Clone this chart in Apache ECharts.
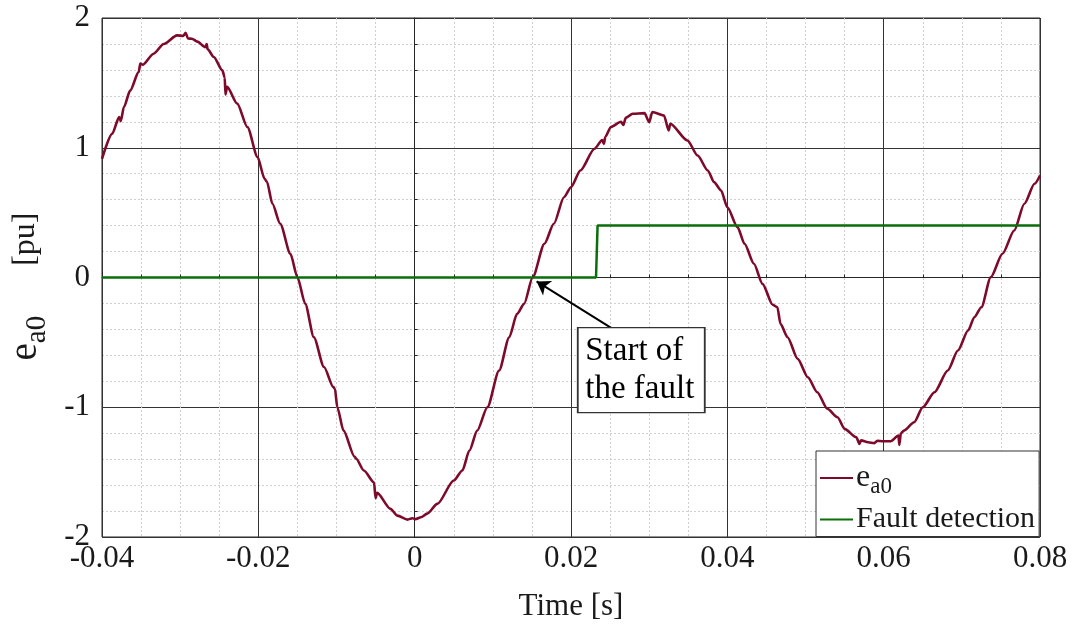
<!DOCTYPE html>
<html>
<head>
<meta charset="utf-8">
<script src="https://cdn.jsdelivr.net/npm/echarts@6/dist/echarts.min.js"></script>
<style>
  html, body { margin: 0; padding: 0; background: #fff; }
  #chart { width: 1074px; height: 630px; }
</style>
</head>
<body>
<div id="chart"></div>
<script>
// Sampled zero-sequence voltage e_a0 [pu] against time [s]
const timeE = [
  -0.0400, -0.0387, -0.0378, -0.0376, -0.0372, -0.0364, -0.0353, -0.0351, -0.0348, -0.0334,
  -0.0321, -0.0304, -0.0296, -0.0293, -0.0290, -0.0285, -0.0278, -0.0268, -0.0266, -0.0265,
  -0.0257, -0.0246, -0.0243, -0.0242, -0.0240, -0.0227, -0.0214, -0.0201, -0.0192, -0.0189,
  -0.0182, -0.0172, -0.0159, -0.0150, -0.0140, -0.0129, -0.0116, -0.0104, -0.0102, -0.0099,
  -0.0091, -0.0077, -0.0075, -0.0065, -0.0052, -0.0050, -0.0048, -0.0031, -0.0022, -0.0009,
  -0.0003, 0.0001, 0.0008, 0.0016, 0.0029, 0.0050, 0.0061, 0.0070, 0.0080, 0.0093,
  0.0108, 0.0121, 0.0131, 0.0140, 0.0151, 0.0166, 0.0178, 0.0191, 0.0200, 0.0212,
  0.0230, 0.0240, 0.0242, 0.0244, 0.0251, 0.0264, 0.0267, 0.0270, 0.0279, 0.0294,
  0.0300, 0.0304, 0.0319, 0.0325, 0.0327, 0.0349, 0.0362, 0.0375, 0.0383, 0.0392,
  0.0400, 0.0413, 0.0422, 0.0434, 0.0445, 0.0458, 0.0464, 0.0468, 0.0477, 0.0490,
  0.0503, 0.0515, 0.0528, 0.0541, 0.0550, 0.0565, 0.0569, 0.0571, 0.0580, 0.0588,
  0.0592, 0.0599, 0.0609, 0.0619, 0.0620, 0.0622, 0.0626, 0.0639, 0.0650, 0.0665,
  0.0682, 0.0695, 0.0708, 0.0716, 0.0725, 0.0737, 0.0752, 0.0767, 0.0780, 0.0793,
  0.0800
];
const valuesE = [
  0.915, 1.108, 1.236, 1.205, 1.313, 1.440, 1.585, 1.648, 1.640, 1.725,
  1.800, 1.866, 1.862, 1.885, 1.842, 1.840, 1.818, 1.775, 1.800, 1.760,
  1.700, 1.596, 1.540, 1.410, 1.470, 1.340, 1.160, 0.928, 0.760, 0.738,
  0.568, 0.414, 0.183, 0.002, -0.203, -0.460, -0.690, -0.845, -0.858, -1.000,
  -1.180, -1.380, -1.395, -1.488, -1.580, -1.700, -1.660, -1.783, -1.835, -1.866,
  -1.855, -1.862, -1.848, -1.820, -1.745, -1.565, -1.488, -1.334, -1.180, -1.000,
  -0.717, -0.460, -0.280, -0.203, 0.002, 0.260, 0.414, 0.619, 0.696, 0.825,
  0.992, 1.060, 1.030, 1.085, 1.160, 1.200, 1.175, 1.230, 1.262, 1.267,
  1.197, 1.275, 1.249, 1.133, 1.185, 1.056, 0.940, 0.825, 0.735, 0.671,
  0.542, 0.388, 0.260, 0.106, -0.049, -0.210, -0.229, -0.357, -0.460, -0.627,
  -0.769, -0.884, -1.012, -1.077, -1.167, -1.231, -1.282, -1.255, -1.270, -1.277,
  -1.258, -1.262, -1.262, -1.218, -1.290, -1.200, -1.180, -1.116, -1.000, -0.884,
  -0.717, -0.563, -0.409, -0.306, -0.229, 0.002, 0.183, 0.362, 0.568, 0.722,
  0.786
];

// Fault detection flag (step output)
const timeF = [-0.04, 0.0232, 0.0234, 0.08];
const valuesF = [0, 0, 0.4, 0.4];

// Axis ranges and ticks
const xRange = [-0.04, 0.08];
const xStep = 0.02;
const yRange = [-2, 2];
const yStep = 1;

// Annotation: arrow from the text box to the fault inception point
const arrowFrom = [0.0257, -0.409];
const arrowTo = [0.0156, -0.03];
const noteAt = [0.02899, -0.713];
const noteLines = ['Start of', 'the fault'];

const FONT = 'Liberation Serif';
const INK = '#1a1a1a';

const seriesE = timeE.map((t, i) => [t, valuesE[i]]);
const seriesF = timeF.map((t, i) => [t, valuesF[i]]);

const chart = echarts.init(document.getElementById('chart'), null, { renderer: 'canvas' });

const axisCommon = {
  axisLine: { show: true, lineStyle: { color: '#262626', width: 1 } },
  axisTick: { show: true, inside: true, length: 6, lineStyle: { color: '#262626' } },
  minorTick: { show: true, length: 3, lineStyle: { color: '#262626' } },
  splitLine: { show: true, lineStyle: { color: '#333333', width: 1 } },
  minorSplitLine: { show: true, lineStyle: { color: '#cfcfcf', width: 1, type: [2, 2] } },
  axisLabel: { color: INK, fontFamily: FONT, fontSize: 31 },
  nameTextStyle: { color: INK, fontFamily: FONT, fontSize: 31 }
};

chart.setOption({
  backgroundColor: '#ffffff',
  animation: false,
  grid: {
    left: 102, right: 34, top: 18, bottom: 93,
    outerBoundsMode: 'none',
    containLabel: false,
    show: true, borderColor: '#262626', borderWidth: 1, backgroundColor: '#ffffff'
  },
  xAxis: Object.assign({}, axisCommon, {
    type: 'value',
    min: xRange[0], max: xRange[1], interval: xStep,
    minorTick: Object.assign({}, axisCommon.minorTick, { splitNumber: 4 }),
    minorSplitLine: axisCommon.minorSplitLine,
    axisLabel: Object.assign({}, axisCommon.axisLabel, { margin: 6 }),
    name: 'Time [s]',
    nameLocation: 'middle',
    nameGap: 54
  }),
  yAxis: Object.assign({}, axisCommon, {
    type: 'value',
    min: yRange[0], max: yRange[1], interval: yStep,
    minorTick: Object.assign({}, axisCommon.minorTick, { splitNumber: 5 }),
    minorSplitLine: axisCommon.minorSplitLine,
    axisLabel: Object.assign({}, axisCommon.axisLabel, { margin: 12 }),
    name: '{e|e}{s|a0}{g|}{u|[pu]}',
    nameLocation: 'middle',
    nameRotate: 90,
    nameGap: 50,
    nameTextStyle: {
      color: INK, fontFamily: FONT, fontSize: 32,
      padding: [0, 18, 0, 0],
      rich: {
        e: { fontFamily: FONT, fontSize: 39, color: INK },
        s: { fontFamily: FONT, fontSize: 29, color: INK, padding: [24, 0, 0, 0] },
        g: { width: 50 },
        u: { fontFamily: FONT, fontSize: 32, color: INK }
      }
    }
  }),
  legend: {
    orient: 'vertical',
    left: 816, top: 451,
    padding: [11, 4, 2, 4],
    itemGap: 6,
    itemWidth: 33,
    itemHeight: 2,
    icon: 'rect',
    backgroundColor: '#ffffff',
    borderColor: '#333333',
    borderWidth: 1,
    borderRadius: 0,
    data: ['e_a0', 'Fault detection'],
    formatter: function (name) {
      return name === 'e_a0' ? '{e|e}{s|a0}' : '{t|' + name + '}';
    },
    textStyle: {
      color: INK, fontFamily: FONT, fontSize: 30, padding: [0, 0, 0, -2],
      rich: {
        e: { fontFamily: FONT, fontSize: 32, color: INK, lineHeight: 36 },
        s: { fontFamily: FONT, fontSize: 23, color: INK, padding: [18, 0, 0, 0] },
        t: { fontFamily: FONT, fontSize: 30, color: INK, lineHeight: 36 }
      }
    }
  },
  series: [
    {
      name: 'e_a0',
      type: 'line',
      data: seriesE,
      symbol: 'none',
      smooth: 0.25,
      smoothMonotone: 'x',
      lineStyle: { color: '#7d0a2a', width: 2.6 },
      itemStyle: { color: '#7d0a2a' },
      z: 3,
      markLine: {
        silent: true,
        symbol: ['none', 'arrow'],
        symbolSize: 13,
        label: { show: false },
        lineStyle: { color: '#000000', width: 2, type: 'solid' },
        data: [[{ coord: arrowFrom }, { coord: arrowTo }]]
      },
      markPoint: {
        silent: true,
        symbol: 'rect',
        symbolSize: [127, 85],
        itemStyle: { color: '#ffffff', borderColor: '#333333', borderWidth: 1.5 },
        label: {
          show: true,
          position: 'inside',
          formatter: noteLines.map(s => '{a|' + s + '}').join('\n'),
          rich: {
            a: { fontFamily: FONT, fontSize: 33, lineHeight: 38, color: '#000000', width: 112, align: 'left' }
          }
        },
        data: [{ coord: noteAt }]
      }
    },
    {
      name: 'Fault detection',
      type: 'line',
      data: seriesF,
      symbol: 'none',
      lineStyle: { color: '#0a6e0a', width: 2.5 },
      itemStyle: { color: '#0a6e0a' },
      z: 4
    }
  ]
});
</script>
</body>
</html>
